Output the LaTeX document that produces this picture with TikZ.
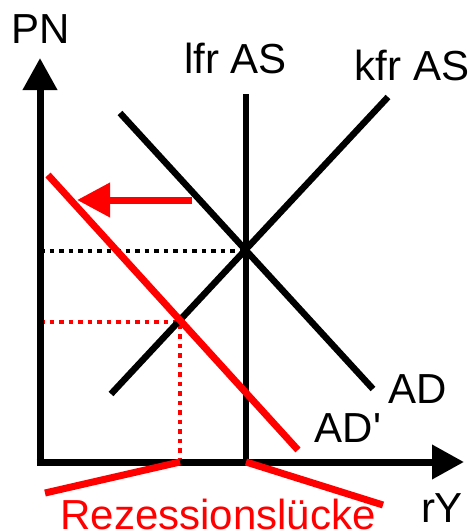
\documentclass[tikz,border=0pt]{standalone}
\usepackage{fontspec}
\setmainfont{Liberation Sans}
\usetikzlibrary{arrows.meta}
\definecolor{myred}{RGB}{255,0,0}
\tikzset{
  axis/.style={line width=7pt, -{Triangle[length=32pt,width=33pt]}},
  curve/.style={line width=6.5pt},
  redcurve/.style={line width=7pt, draw=myred},
  guide/.style={line width=4.5pt, dash pattern=on 4.5pt off 5pt},
  redguide/.style={guide, draw=myred},
  lbl/.style={font=\fontsize{42}{42}\selectfont, anchor=base, inner sep=0pt},
  redlbl/.style={lbl, text=myred},
}
\begin{document}
\begin{tikzpicture}[x=1pt,y=-1pt]
\useasboundingbox (0,0) rectangle (470,531);
% coordinates
\coordinate (O) at (40,462);
\coordinate (Ytop) at (40,58);
\coordinate (Xend) at (464,462);
\coordinate (lfrTop) at (246,94);
\coordinate (lfrBot) at (246,462);
\coordinate (kfrA) at (111,394);
\coordinate (kfrB) at (388,97);
\coordinate (adA) at (120,113);
\coordinate (adB) at (373,389);
\coordinate (adpA) at (48,175);
\coordinate (adpB) at (298,450);
\coordinate (arrS) at (192,200);
\coordinate (arrE) at (77,200);
\coordinate (eqL) at (40,251);
\coordinate (eqR) at (246,251);
\coordinate (neqL) at (40,322);
\coordinate (neqP) at (180,322);
\coordinate (neqB) at (180,462);
\coordinate (gapL) at (45,493);
\coordinate (gapR) at (383,505);
% guides
\draw[guide] (eqL) -- (eqR);
\draw[redguide] (neqL) -- (neqP) -- (neqB);
% curves
\draw[curve] (lfrTop) -- (lfrBot);
\draw[curve] (kfrA) -- (kfrB);
\draw[curve] (adA) -- (adB);
\draw[redcurve] (adpA) -- (adpB);
\draw[redcurve, -{Triangle[length=33pt,width=33pt]}] (arrS) -- (arrE);
% axes
\draw[axis] ([yshift=3.5pt]O) -- (Ytop);
\draw[axis] ([xshift=-3.5pt]O) -- (Xend);
% gap brackets
\draw[redcurve] (gapL) -- (neqB);
\draw[redcurve] (lfrBot) -- (gapR);
% labels
\node[lbl] (pn) at (40.5,43) {PN};
\node[lbl] (lfr) at (235.5,73) {lfr AS};
\node[lbl] (kfr) at (412,80) {kfr AS};
\node[lbl] (ad) at (418,403) {AD};
\node[lbl] (adp) at (348,442) {AD\textquotesingle};
\node[lbl] (ry) at (442,522) {rY};
\node[redlbl] (rez) at (218,529) {Rezessionslücke};
\end{tikzpicture}
\end{document}
